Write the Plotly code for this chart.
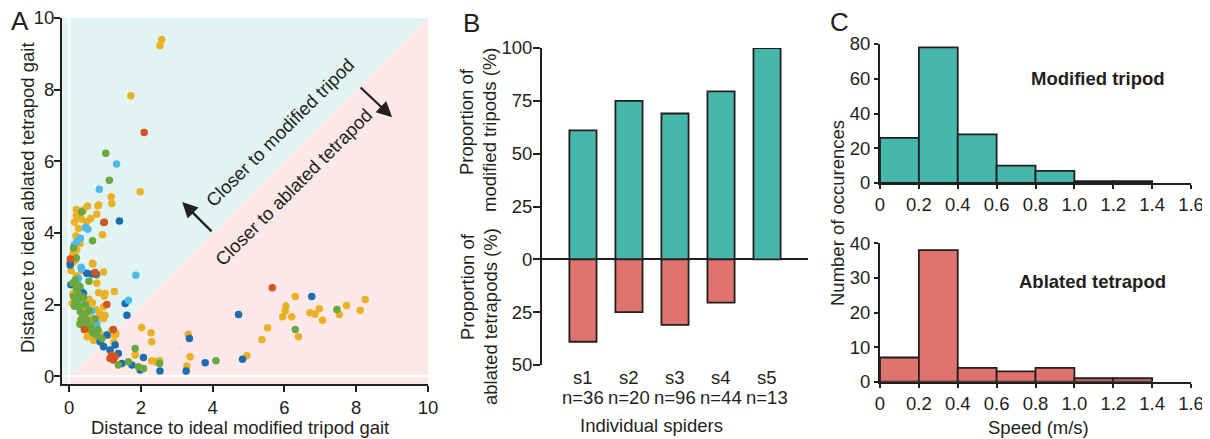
import plotly.graph_objects as go

# The page body has an 8px margin; shift the layout so that it lines up with the window.
W, H = 1210, 439
OFF = 8
FW, FH = W, H
FONT = "Liberation Sans, Arial, sans-serif"
TXT = "#231f20"
FS = 18.5


def fx(p):
    return (p - OFF) / FW


def fy(p):
    return 1 - (p - OFF) / FH


# ---------------- Panel A data (distance to ideal gaits) ----------------
yellow_x = [2.58, 2.53, 1.72, 1.98, 1.17, 1.19, 0.82, 0.51, 0.40, 0.30, 0.77, 0.26, 0.35, 0.49, 0.20, 0.26,
            0.93, 0.19, 0.21, 0.17, 0.17, 0.66, 0.12, 0.65, 0.96, 0.77, 0.77, 1.26, 1.00, 0.82, 0.98, 0.96,
            1.00, 0.96, 0.08, 0.31, 0.44, 0.68, 0.55, 1.19, 1.28, 0.72, 2.02, 2.28, 2.30, 1.84, 2.30, 2.40,
            2.52, 3.32, 3.37, 3.28, 4.95, 5.37, 5.53, 6.39, 5.95, 6.02, 6.04, 6.20, 6.30, 6.71, 6.85, 6.97,
            7.06, 7.53, 7.73, 8.11, 8.25, 0.10, 0.15, 0.25, 0.30, 0.35, 0.40, 0.50, 0.55, 0.60, 0.70, 0.45,
            0.20, 0.05, 0.10, 0.30, 0.15, 0.20, 0.60, 0.85, 1.10, 1.25, 1.30, 0.95, 0.35, 0.55, 0.65, 0.75,
            0.85, 0.90, 0.50, 0.80]
yellow_y = [9.40, 9.23, 7.83, 5.15, 5.01, 4.82, 4.78, 4.75, 4.64, 4.60, 4.52, 4.43, 4.38, 4.31, 4.48, 4.12,
            3.95, 3.91, 3.52, 3.33, 3.24, 3.13, 3.19, 3.15, 2.91, 2.82, 2.59, 2.36, 2.31, 2.33, 2.24, 1.94,
            1.70, 1.61, 2.03, 1.56, 1.38, 1.00, 1.25, 1.28, 1.15, 1.10, 1.36, 1.21, 0.96, 0.59, 0.43, 0.40,
            0.43, 1.17, 0.54, 0.28, 0.57, 1.02, 1.35, 1.10, 1.66, 1.82, 1.96, 1.66, 2.22, 1.77, 1.73, 1.88,
            1.56, 1.72, 1.97, 1.84, 2.14, 2.30, 2.55, 2.40, 2.20, 2.05, 1.85, 1.70, 1.50, 1.60, 1.45, 1.95,
            2.80, 2.95, 3.40, 3.70, 4.30, 4.65, 4.40, 1.20, 1.15, 0.95, 1.20, 0.85, 2.95, 2.15, 2.05, 1.85,
            1.75, 1.65, 1.10, 4.76]

blue_x = [1.40, 0.03, 0.03, 0.49, 0.63, 0.75, 0.40, 1.56, 1.61, 0.86, 0.96, 1.28, 1.14, 1.37, 1.47, 1.75,
          2.07, 1.98, 2.53, 3.35, 3.26, 3.79, 4.83, 4.72, 6.76, 0.05, 0.35, 1.20, 1.05, 0.28]
blue_y = [4.33, 3.10, 3.15, 2.87, 2.85, 2.85, 2.31, 2.03, 1.70, 0.96, 0.82, 0.87, 0.73, 0.63, 0.35, 0.31,
          0.52, 0.17, 0.14, 1.05, 0.14, 0.37, 0.47, 1.72, 2.22, 2.55, 2.35, 0.55, 1.15, 2.25]

lightblue_x = [1.32, 0.84, 0.52, 0.31, 0.21, 0.14, 0.33, 0.35, 0.26, 0.22, 1.86, 1.65, 0.63, 0.77, 0.70,
               0.25, 0.45]
lightblue_y = [5.92, 5.22, 4.10, 3.85, 3.75, 3.66, 3.04, 3.00, 2.73, 2.62, 2.82, 2.12, 1.82, 1.47, 1.40,
               2.00, 4.15]

green_x = [1.02, 1.12, 0.35, 0.96, 0.65, 0.12, 0.20, 0.17, 0.12, 0.17, 0.26, 0.31, 0.35, 0.40, 0.49, 0.63,
           0.68, 0.77, 0.91, 0.10, 0.20, 0.25, 0.30, 0.40, 0.45, 0.55, 0.45, 0.55, 0.25, 0.60, 0.80, 1.84,
           1.37, 1.65, 1.93, 2.07, 2.52, 4.09, 6.30, 7.46, 0.50, 0.30, 0.72, 0.15]
green_y = [6.22, 5.47, 4.58, 4.29, 3.78, 3.57, 3.30, 2.68, 2.22, 2.08, 1.94, 1.80, 1.61, 1.47, 1.33, 1.28,
           1.19, 1.15, 1.05, 2.60, 2.45, 2.30, 2.50, 2.20, 2.00, 1.85, 1.75, 2.65, 2.15, 1.40, 1.30, 0.77,
           0.31, 0.40, 0.26, 0.21, 0.35, 0.43, 1.30, 1.86, 1.55, 1.45, 1.60, 1.95]

red_x = [2.09, 0.98, 0.03, 0.72, 1.05, 1.23, 1.14, 1.23, 1.28, 5.66, 0.42, 1.18]
red_y = [6.80, 4.30, 3.27, 2.89, 2.00, 1.30, 0.49, 0.45, 0.54, 2.47, 1.30, 0.58]

# ---------------- Panel B data ----------------
spiders = ["s1", "s2", "s3", "s4", "s5"]
n_labels = ["n=36", "n=20", "n=96", "n=44", "n=13"]
modified_pct = [61, 75, 69, 79.5, 100]
ablated_pct = [39, 25, 31, 20.5, 0]

# ---------------- Panel C data ----------------
bin_edges = [0, 0.2, 0.4, 0.6, 0.8, 1.0, 1.2, 1.4]
modified_counts = [26, 78, 28, 10, 7, 1, 1]
ablated_counts = [7, 38, 4, 3, 4, 1, 1]
speed_ticks = ["0", "0.2", "0.4", "0.6", "0.8", "1.0", "1.2", "1.4", "1.6"]

TEAL = "#47b7ab"
SALMON = "#df746e"

fig = go.Figure()

# Panel A scatter
for xs, ys, col in [(yellow_x, yellow_y, "#e9b126"), (blue_x, blue_y, "#1b6db2"),
                    (lightblue_x, lightblue_y, "#4fb9e6"), (green_x, green_y, "#6aa83f"),
                    (red_x, red_y, "#d6531f")]:
    fig.add_trace(go.Scatter(x=xs, y=ys, mode="markers", xaxis="x", yaxis="y",
                             marker=dict(color=col, size=7.5, line=dict(width=0)),
                             showlegend=False, hoverinfo="skip"))

# Panel B bars
xpos = list(range(1, len(spiders) + 1))
fig.add_trace(go.Bar(x=xpos, y=modified_pct, width=0.59, xaxis="x2", yaxis="y2",
                     marker=dict(color=TEAL, line=dict(color=TXT, width=1.8)), showlegend=False))
fig.add_trace(go.Bar(x=[xpos[i] for i in range(len(spiders)) if ablated_pct[i] > 0],
                     y=[-v for v in ablated_pct if v > 0], width=0.59, xaxis="x2", yaxis="y2",
                     marker=dict(color=SALMON, line=dict(color=TXT, width=1.8)), showlegend=False))

# Panel C histograms
centers = [(bin_edges[i] + bin_edges[i + 1]) / 2 for i in range(len(bin_edges) - 1)]
fig.add_trace(go.Bar(x=centers, y=modified_counts, width=0.2, xaxis="x3", yaxis="y3",
                     marker=dict(color=TEAL, line=dict(color=TXT, width=1.8)), showlegend=False))
fig.add_trace(go.Bar(x=centers, y=ablated_counts, width=0.2, xaxis="x4", yaxis="y4",
                     marker=dict(color=SALMON, line=dict(color=TXT, width=1.8)), showlegend=False))

axis_common = dict(showline=True, linecolor=TXT, linewidth=2, ticks="outside", tickcolor=TXT,
                   tickwidth=2, ticklen=6, showgrid=False, zeroline=False, automargin=False,
                   ticklabeloverflow="allow",
                   tickfont=dict(family=FONT, size=FS, color=TXT))

fig.update_layout(
    template="none",
    width=FW, height=FH, margin=dict(l=0, r=0, t=0, b=0, pad=0, autoexpand=False),
    paper_bgcolor="white", plot_bgcolor="rgba(0,0,0,0)", barmode="overlay",
    font=dict(family=FONT, size=FS, color=TXT),
    xaxis=dict(domain=[fx(62), fx(428)], range=[-0.2, 10], anchor="y",
               tickvals=[0, 2, 4, 6, 8, 10], **axis_common),
    yaxis=dict(domain=[fy(384), fy(18)], range=[-0.22, 10], anchor="x",
               tickvals=[0, 2, 4, 6, 8, 10], ticklabelstandoff=-4, **axis_common),
    xaxis2=dict(domain=[fx(542), fx(808)], range=[0.11, 5.89], anchor="y2", visible=False,
                automargin=False),
    yaxis2=dict(domain=[fy(365), fy(48)], range=[-50, 100], anchor="x2",
                tickvals=[-50, -25, 0, 25, 50, 75, 100],
                ticktext=["50", "25", "0", "25", "50", "75", "100"], ticklabelstandoff=-3,
                **{**axis_common, "zeroline": True, "ticklen": 7}, zerolinecolor=TXT, zerolinewidth=2),
    xaxis3=dict(domain=[fx(880), fx(1191)], range=[0, 1.6], anchor="y3",
                tickvals=[0, 0.2, 0.4, 0.6, 0.8, 1.0, 1.2, 1.4, 1.6], ticktext=speed_ticks,
                **{**axis_common, "ticklen": 4}),
    yaxis3=dict(domain=[fy(183), fy(44)], range=[0, 80], anchor="x3",
                tickvals=[0, 20, 40, 60, 80], **{**axis_common, "ticklen": 4}),
    xaxis4=dict(domain=[fx(880), fx(1191)], range=[0, 1.6], anchor="y4",
                tickvals=[0, 0.2, 0.4, 0.6, 0.8, 1.0, 1.2, 1.4, 1.6], ticktext=speed_ticks,
                **{**axis_common, "ticklen": 4}),
    yaxis4=dict(domain=[fy(381.7), fy(243.3)], range=[0, 40], anchor="x4",
                tickvals=[0, 10, 20, 30, 40], **{**axis_common, "ticklen": 4}),
)

# Panel A background regions
shapes = [
    dict(type="path", path="M -0.2,-0.22 L -0.2,10 L 10,10 Z", xref="x", yref="y",
         fillcolor="#e1f4f2", line=dict(width=0), layer="below"),
    dict(type="path", path="M -0.2,-0.22 L 10,-0.22 L 10,10 Z", xref="x", yref="y",
         fillcolor="#fce8e8", line=dict(width=0), layer="below"),
    dict(type="line", x0=0, x1=0, y0=-0.22, y1=10, xref="x", yref="y",
         line=dict(color="white", width=2), layer="below"),
    dict(type="line", x0=-0.2, x1=10, y0=0, y1=0, xref="x", yref="y",
         line=dict(color="white", width=2), layer="below"),
]
fig.update_layout(shapes=shapes)

ann = []


def txt(x, y, s, size=FS, angle=0, xref="paper", yref="paper", bold=False):
    ann.append(dict(x=x, y=y, xref=xref, yref=yref, text=(f"<b>{s}</b>" if bold else s),
                    showarrow=False, textangle=angle, xanchor="center", yanchor="middle",
                    font=dict(family=FONT, size=size, color=TXT)))


# panel letters
txt(fx(20), fy(21), "A", size=26)
txt(fx(471), fy(23), "B", size=26)
txt(fx(839), fy(22), "C", size=26)

# Panel A titles
txt(fx(240), fy(427), "Distance to ideal modified tripod gait")
txt(fx(27), fy(198), "Distance to ideal ablated tetrapod gait", angle=-90)
txt(5.88, 6.8, "Closer to modified tripod", angle=-45, xref="x", yref="y")
txt(6.24, 5.28, "Closer to ablated tetrapod", angle=-45, xref="x", yref="y")
ann.append(dict(x=3.15, y=4.86, ax=4.01, ay=4.0, xref="x", yref="y", axref="x", ayref="y",
                text="", showarrow=True, arrowhead=2, arrowsize=1.4, arrowwidth=2.2, arrowcolor=TXT))
ann.append(dict(x=9.0, y=7.23, ax=8.08, ay=8.1, xref="x", yref="y", axref="x", ayref="y",
                text="", showarrow=True, arrowhead=2, arrowsize=1.4, arrowwidth=2.2, arrowcolor=TXT))

# Panel B titles
txt(fx(467), fy(122), "Proportion of", angle=-90)
txt(fx(490), fy(130), "modified tripods (%)", angle=-90)
txt(fx(467), fy(287), "Proportion of", angle=-90)
txt(fx(490), fy(317), "ablated tetrapods (%)", angle=-90)
for i, (s, n) in enumerate(zip(spiders, n_labels)):
    txt(xpos[i], fy(377), s, xref="x2")
    txt(xpos[i], fy(397), n, xref="x2")
txt(fx(651), fy(425), "Individual spiders")

# Panel C titles
txt(fx(1098), fy(79), "Modified tripod", bold=True)
txt(fx(1092), fy(281), "Ablated tetrapod", bold=True)
txt(fx(837), fy(213), "Number of occurences", angle=-90)
txt(fx(1038), fy(427), "Speed (m/s)")

fig.update_layout(annotations=ann)
fig.write_html("out.html")
